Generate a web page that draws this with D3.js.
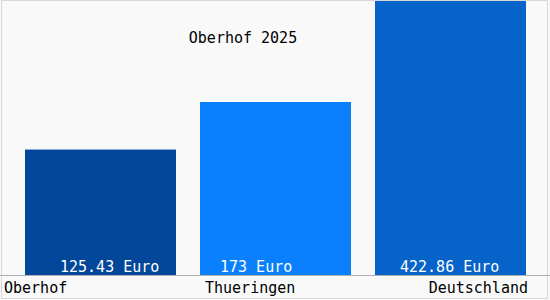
<!DOCTYPE html>
<html><head><meta charset="utf-8">
<script src="https://cdn.jsdelivr.net/npm/d3@7"></script>
<style>html,body{margin:0;padding:0;background:#fff}svg{display:block}</style>
</head><body>
<script>
const title = "Oberhof 2025";
const categories = ["Oberhof", "Thueringen", "Deutschland"];
const values = [125.43, 173, 422.86];
const valueLabels = ["125.43 Euro", "173 Euro", "422.86 Euro"];
const colors = ["#03479a", "#0a80fd", "#0563c9"];

const W = 550, H = 300, base = 275;
const font = "'DejaVu Sans Mono', monospace";
const svg = d3.select("body").append("svg").attr("width", W).attr("height", H);

svg.append("rect").attr("x", 0).attr("y", 0).attr("width", W).attr("height", H).attr("fill", "#f9f9f9");
svg.append("rect").attr("x", 1.5).attr("y", 0.5).attr("width", W - 4).attr("height", H - 2)
  .attr("fill", "none").attr("stroke", "#d8d8d8");

const x = d3.scaleBand().domain(categories).range([13, 538]).paddingInner(24 / 175).paddingOuter(12 / 175);
const y = d3.scaleLinear().domain([0, base]).range([base, 0]).clamp(true);

svg.selectAll("rect.bar").data(categories).join("rect").attr("class", "bar")
  .attr("x", d => x(d)).attr("width", x.bandwidth())
  .attr("y", (d, i) => Math.max(1, y(values[i])))
  .attr("height", (d, i) => base - Math.max(1, y(values[i])))
  .attr("fill", (d, i) => colors[i]);

svg.append("line").attr("x1", 0).attr("x2", W).attr("y1", base + 0.5).attr("y2", base + 0.5)
  .attr("stroke", "#b0b0b0");

svg.append("text").attr("x", 243).attr("y", 43).attr("text-anchor", "middle")
  .attr("font-family", font).attr("font-size", 15).attr("fill", "#000").text(title);

const valDx = [35, 20, 25];
svg.selectAll("text.val").data(categories).join("text").attr("class", "val")
  .attr("x", (d, i) => x(d) + valDx[i]).attr("y", 272)
  .attr("font-family", font).attr("font-size", 15).attr("fill", "#fff")
  .text((d, i) => valueLabels[i]);

const anchors = ["start", "start", "end"];
const catX = [4, 205, 528];
svg.selectAll("text.cat").data(categories).join("text").attr("class", "cat")
  .attr("x", (d, i) => catX[i]).attr("y", 293).attr("text-anchor", (d, i) => anchors[i])
  .attr("font-family", font).attr("font-size", 15).attr("fill", "#000").text(d => d);
</script>
</body></html>
